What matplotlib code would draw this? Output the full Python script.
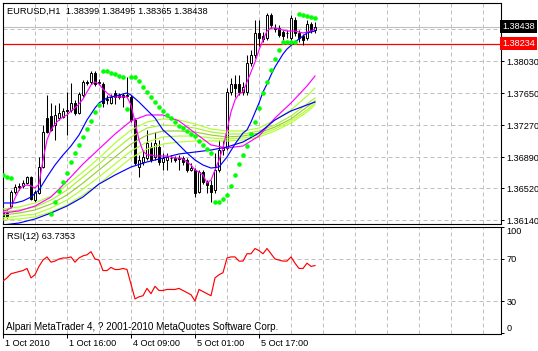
import numpy as np
import matplotlib
matplotlib.use('Agg')
import matplotlib.pyplot as plt

plt.rcParams['font.family'] = ['Liberation Sans', 'DejaVu Sans']

# EURUSD H1 bars, starting 1 Oct 2010 00:00
bar_open = [1.36237, 1.36225, 1.36296, 1.36474, 1.36546, 1.36546, 1.36581, 1.36653, 1.36379, 1.36463,
            1.36771, 1.37353, 1.37377, 1.37270, 1.37353, 1.37365, 1.37448, 1.37448, 1.37531, 1.37413,
            1.37626, 1.37781, 1.37781, 1.37888, 1.37769, 1.37757, 1.37579, 1.37531, 1.37650, 1.37626,
            1.37626, 1.37626, 1.37603, 1.37330, 1.36771, 1.36831, 1.36878, 1.37009, 1.36890, 1.37009,
            1.36831, 1.36854, 1.36878, 1.36878, 1.36878, 1.36878, 1.36854, 1.36736, 1.36736, 1.36474,
            1.36712, 1.36593, 1.36558, 1.36498, 1.36736, 1.36973, 1.36997, 1.37662, 1.37757, 1.37757,
            1.37662, 1.37662, 1.38006, 1.38101, 1.38363, 1.38327, 1.38303, 1.38576, 1.38422, 1.38422,
            1.38374, 1.38363, 1.38303, 1.38517, 1.38363, 1.38327, 1.38303, 1.38469, 1.38399]
bar_high = [1.36284, 1.36261, 1.36498, 1.36569, 1.36581, 1.36617, 1.36664, 1.36664, 1.36498, 1.36890,
            1.37270, 1.37626, 1.37531, 1.37508, 1.37531, 1.37472, 1.37662, 1.37769, 1.37567, 1.37662,
            1.37804, 1.37804, 1.37911, 1.37911, 1.37816, 1.37781, 1.37626, 1.37638, 1.37686, 1.37650,
            1.37650, 1.37840, 1.37626, 1.37353, 1.36914, 1.36973, 1.37211, 1.37068, 1.37187, 1.37092,
            1.36938, 1.36938, 1.36914, 1.36902, 1.36914, 1.36902, 1.36878, 1.36819, 1.36759, 1.36736,
            1.36736, 1.36617, 1.36617, 1.36938, 1.37092, 1.37092, 1.37709, 1.37828, 1.37864, 1.37864,
            1.37781, 1.38101, 1.38161, 1.38517, 1.38517, 1.38374, 1.38600, 1.38600, 1.38469, 1.38458,
            1.38398, 1.38398, 1.38576, 1.38553, 1.38398, 1.38351, 1.38517, 1.38493, 1.38495]
bar_low = [1.36166, 1.36166, 1.36284, 1.36451, 1.36498, 1.36522, 1.36569, 1.36379, 1.36356, 1.36451,
           1.36759, 1.37175, 1.37199, 1.37092, 1.37330, 1.37353, 1.37151, 1.37425, 1.37389, 1.37401,
           1.37603, 1.37745, 1.37757, 1.37733, 1.37745, 1.37484, 1.37520, 1.37520, 1.37520, 1.37579,
           1.37484, 1.37603, 1.37306, 1.36795, 1.36653, 1.36795, 1.36854, 1.36831, 1.36854, 1.36795,
           1.36736, 1.36736, 1.36831, 1.36831, 1.36736, 1.36795, 1.36712, 1.36724, 1.36415, 1.36463,
           1.36569, 1.36463, 1.36356, 1.36463, 1.36712, 1.36914, 1.36973, 1.37626, 1.37603, 1.37626,
           1.37626, 1.37626, 1.37971, 1.38066, 1.38208, 1.38256, 1.38279, 1.38422, 1.38374, 1.38315,
           1.38279, 1.38303, 1.38279, 1.38327, 1.38256, 1.38220, 1.38279, 1.38363, 1.38365]
bar_close = [1.36190, 1.36190, 1.36474, 1.36534, 1.36534, 1.36581, 1.36653, 1.36391, 1.36474, 1.36771,
             1.37187, 1.37187, 1.37211, 1.37389, 1.37413, 1.37437, 1.37437, 1.37531, 1.37413, 1.37638,
             1.37781, 1.37769, 1.37888, 1.37757, 1.37781, 1.37531, 1.37567, 1.37603, 1.37603, 1.37603,
             1.37603, 1.37614, 1.37330, 1.36819, 1.36854, 1.36890, 1.37056, 1.36854, 1.37056, 1.36831,
             1.36878, 1.36890, 1.36884, 1.36854, 1.36872, 1.36831, 1.36736, 1.36759, 1.36463, 1.36712,
             1.36593, 1.36558, 1.36474, 1.36736, 1.36973, 1.36997, 1.37662, 1.37757, 1.37709, 1.37662,
             1.37721, 1.38006, 1.38101, 1.38363, 1.38303, 1.38291, 1.38576, 1.38458, 1.38410, 1.38339,
             1.38327, 1.38357, 1.38541, 1.38363, 1.38303, 1.38279, 1.38469, 1.38398, 1.38438]

# fast moving averages (one value per bar / sampled bars)
ma_fast_pink = [1.36249, 1.36261, 1.36284, 1.36403, 1.36498, 1.36546, 1.36558, 1.36546, 1.36522, 1.36569,
                1.36854, 1.37092, 1.37211, 1.37282, 1.37330, 1.37365, 1.37389, 1.37437, 1.37472, 1.37520,
                1.37579, 1.37662, 1.37745, 1.37781, 1.37757, 1.37698, 1.37650, 1.37614, 1.37603, 1.37603,
                1.37603, 1.37603, 1.37508, 1.37306, 1.37092, 1.36961, 1.36914, 1.36914, 1.36902, 1.36902,
                1.36902, 1.36902, 1.36890, 1.36878, 1.36878, 1.36866, 1.36831, 1.36795, 1.36736, 1.36712,
                1.36676, 1.36581, 1.36617, 1.36736, 1.36854, 1.36997, 1.37211, 1.37425, 1.37567, 1.37638,
                1.37662, 1.37781, 1.37899, 1.38018, 1.38161, 1.38279, 1.38386, 1.38422, 1.38422, 1.38410,
                1.38398, 1.38386, 1.38386, 1.38386, 1.38374, 1.38363, 1.38374, 1.38386, 1.38410]
ma_fast_blue_bars = [0, 3, 5, 7, 9, 11, 13, 15, 17, 19, 21, 22, 23, 24, 26, 28, 30, 31, 32, 34, 36, 38,
                     40, 42, 44, 46, 48, 50, 52, 54, 56, 58, 60, 61, 62, 64, 65, 66, 67, 68, 70, 71,
                     73, 75, 76, 78]
ma_fast_blue = [1.36344, 1.36344, 1.36368, 1.36415, 1.36498, 1.36653, 1.36795, 1.36914, 1.37021, 1.37151,
                1.37330, 1.37401, 1.37472, 1.37531, 1.37591, 1.37614, 1.37638, 1.37650, 1.37626, 1.37543,
                1.37448, 1.37353, 1.37211, 1.37128, 1.37033, 1.36938, 1.36854, 1.36795, 1.36759, 1.36771,
                1.36890, 1.37044, 1.37175, 1.37211, 1.37306, 1.37531, 1.37662, 1.37757, 1.37864, 1.37959,
                1.38113, 1.38172, 1.38256, 1.38327, 1.38363, 1.38386]

# slow averages, read every 4 bars
slow_bars = [0, 4, 8, 12, 16, 20, 24, 28, 32, 36, 40, 44, 48, 52, 56, 60, 64, 68, 72, 76, 78]
ma_slow_pink = [1.36225, 1.36249, 1.36308, 1.36415, 1.36605, 1.36807, 1.36985, 1.37163, 1.37318, 1.37389,
                1.37389, 1.37318, 1.37175, 1.37033, 1.36997, 1.37021, 1.37139, 1.37353, 1.37531, 1.37733,
                1.37852]
ma_slow_blue = [1.36083, 1.36106, 1.36154, 1.36225, 1.36308, 1.36415, 1.36569, 1.36676, 1.36771, 1.36831,
                1.36878, 1.36926, 1.36949, 1.36973, 1.37009, 1.37068, 1.37175, 1.37330, 1.37437, 1.37508,
                1.37543]
ribbon = [
    [1.36273, 1.36296, 1.36344, 1.36427, 1.36558, 1.36712, 1.36878, 1.37056, 1.37211, 1.37306, 1.37342,
     1.37330, 1.37282, 1.37223, 1.37199, 1.37199, 1.37234, 1.37330, 1.37448, 1.37614, 1.37709],
    [1.36237, 1.36261, 1.36296, 1.36379, 1.36498, 1.36653, 1.36807, 1.36973, 1.37128, 1.37234, 1.37270,
     1.37258, 1.37234, 1.37187, 1.37163, 1.37163, 1.37199, 1.37270, 1.37377, 1.37520, 1.37591],
    [1.36201, 1.36225, 1.36261, 1.36332, 1.36439, 1.36581, 1.36736, 1.36890, 1.37044, 1.37151, 1.37199,
     1.37199, 1.37187, 1.37151, 1.37128, 1.37139, 1.37175, 1.37246, 1.37342, 1.37484, 1.37555],
    [1.36166, 1.36190, 1.36213, 1.36284, 1.36379, 1.36510, 1.36653, 1.36807, 1.36961, 1.37068, 1.37128,
     1.37139, 1.37139, 1.37116, 1.37104, 1.37116, 1.37151, 1.37223, 1.37318, 1.37448, 1.37531],
    [1.36142, 1.36154, 1.36178, 1.36237, 1.36320, 1.36439, 1.36569, 1.36724, 1.36878, 1.36985, 1.37044,
     1.37068, 1.37080, 1.37080, 1.37080, 1.37092, 1.37128, 1.37199, 1.37294, 1.37425, 1.37508],
]
ribbon_colors = ['#ADFF2F', '#A8F030', '#9ACD32', '#ADFF2F', '#B4FF30']

# parabolic SAR
sar_bars = [0, 1, 2] + list(range(12, 79))
sar = [1.36676, 1.36653, 1.36641,
       1.36213, 1.36356, 1.36486, 1.36593, 1.36700, 1.36831, 1.36938, 1.37033, 1.37128, 1.37223,
       1.37318, 1.37425, 1.37508,
       1.37911, 1.37911, 1.37888, 1.37876, 1.37852, 1.37840,
       1.37460,
       1.37840, 1.37840, 1.37793, 1.37721, 1.37662, 1.37603, 1.37543, 1.37484, 1.37437, 1.37389,
       1.37353, 1.37306, 1.37258, 1.37234, 1.37199, 1.37163, 1.37139, 1.37080, 1.37033, 1.36985,
       1.36938,
       1.36356, 1.36356, 1.36391, 1.36439, 1.36546, 1.36676, 1.36807, 1.36914,
       1.37021, 1.37163, 1.37306, 1.37472, 1.37650, 1.37781, 1.37923, 1.38054, 1.38161, 1.38256,
       1.38256, 1.38256, 1.38256,
       1.38588, 1.38576, 1.38564, 1.38553, 1.38541]

rsi = [49, 52, 56, 57, 58, 59, 61, 52, 55, 63, 69, 72, 67, 68, 70, 71, 71, 72, 67, 71,
       73, 74, 77, 70, 69, 59, 59, 62, 60, 60, 61, 60, 46, 32, 34, 35, 42, 37, 44, 40,
       40, 41, 41, 41, 42, 40, 38, 36, 30, 41, 39, 37, 35, 52, 55, 57, 71, 72, 72, 68,
       68, 75, 75, 80, 78, 75, 80, 75, 70, 69, 68, 68, 72, 66, 61, 61, 66, 63, 63.7353]

price_ticks = [1.38030, 1.37650, 1.37270, 1.36890, 1.36520, 1.36140]
price_grid = [1.38410] + price_ticks
bid_price = 1.38438
level_price = 1.38234
time_ticks = [0, 16, 32, 48, 64]
time_labels = ['1 Oct 2010', '1 Oct 16:00', '4 Oct 09:00', '5 Oct 01:00', '5 Oct 17:00']

W, H = 538, 351
fig = plt.figure(figsize=(W / 100, H / 100), dpi=100)
ax = fig.add_axes([2.5 / W, (H - 223.5) / H, 498 / W, 220.5 / H])
ax2 = fig.add_axes([2.5 / W, (H - 333.5) / H, 498 / W, 107 / H])

grid_kw = dict(color='#C0C0C0', lw=0.72, ls=(0, (4, 3)), zorder=0.5)
for a in (ax, ax2):
    a.set_xlim(-0.125, 124.375)
    for g in range(8, 125, 8):
        a.axvline(g, **grid_kw)
    for s in a.spines.values():
        s.set_color('black')
        s.set_linewidth(0.8)

# ---- price panel
ax.set_ylim(1.361003, 1.387188)
for p in price_grid:
    ax.axhline(p, **grid_kw)
ax.axhline(bid_price, color='#C0C0C0', lw=0.8, zorder=1)
ax.axhline(level_price, color='red', lw=0.9, zorder=1)

o = np.array(bar_open)
h = np.array(bar_high)
l = np.array(bar_low)
c = np.array(bar_close)
idx = np.arange(len(o))
up = c >= o
ax.vlines(idx, l, h, color='black', lw=0.75, zorder=2)
ax.bar(idx, np.maximum(np.abs(c - o), 0.00002), bottom=np.minimum(o, c), width=0.55,
       color=np.where(up, 'white', 'black'), edgecolor='black', linewidth=0.7, zorder=2.5)

for vals, col in zip(ribbon, ribbon_colors):
    ax.plot(slow_bars, vals, color=col, lw=0.85, zorder=3)
ax.plot(slow_bars, ma_slow_pink, color='#FF00FF', lw=0.85, zorder=3)
ax.plot(slow_bars, ma_slow_blue, color='#0000FF', lw=0.85, zorder=3)
ax.plot(idx, ma_fast_pink, color='#FF00FF', lw=0.85, zorder=3.2)
ax.plot(ma_fast_blue_bars, ma_fast_blue, color='#0000FF', lw=0.85, zorder=3.2)
ax.plot(sar_bars, sar, ls='none', marker='o', ms=3.3, mew=0, color='#00FF00', zorder=4)

ax.set_xticks([])
ax.yaxis.tick_right()
ax.set_yticks(price_ticks)
ax.set_yticklabels([f'{v:.5f}' for v in price_ticks])
ax.tick_params(axis='y', direction='out', length=2.2, width=0.72, pad=2, labelsize=6.6, colors='black')

ax.text(1.003, bid_price, f'{bid_price:.5f}', transform=ax.get_yaxis_transform(), ha='left', va='center',
        fontsize=6.6, color='white', bbox=dict(boxstyle='square,pad=0.22', fc='black', ec='none'), clip_on=False)
ax.text(1.003, level_price, f'{level_price:.5f}', transform=ax.get_yaxis_transform(), ha='left', va='center',
        fontsize=6.6, color='white', bbox=dict(boxstyle='square,pad=0.22', fc='red', ec='none'), clip_on=False)

fig.text(7 / W, 1 - 14 / H, 'EURUSD,H1  1.38399 1.38495 1.38365 1.38438', fontsize=6.7, va='baseline')

# ---- RSI panel
ax2.set_ylim(-0.95, 100.95)
for lev in (70, 30):
    ax2.axhline(lev, **grid_kw)
ax2.plot(idx, rsi, color='red', lw=0.85, zorder=3)
ax2.yaxis.tick_right()
ax2.set_yticks([100, 70, 30, 0])
ax2.set_yticklabels(['100', '70', '30', '0'])
ax2.tick_params(axis='y', direction='out', length=2.2, width=0.72, pad=2, labelsize=6.6)
lbls = ax2.get_yticklabels()
lbls[0].set_va('top')
lbls[3].set_va('bottom')

ax2.set_xticks(time_ticks)
ax2.set_xticklabels([])
ax2.tick_params(axis='x', direction='out', length=3, width=0.72)
for t, lab in zip(time_ticks, time_labels):
    ax2.annotate(lab, xy=(t, 0), xycoords=('data', 'axes fraction'), xytext=(1.5, -7.3),
                 textcoords='offset points', ha='left', va='center', fontsize=6.6)

fig.text(7 / W, 1 - 239 / H, 'RSI(12) 63.7353', fontsize=6.7, va='baseline')
fig.text(6 / W, 1 - 329.5 / H, 'Alpari MetaTrader 4, ? 2001-2010 MetaQuotes Software Corp.',
         fontsize=7.1, va='baseline')

fig.savefig('out.png', dpi=100)
